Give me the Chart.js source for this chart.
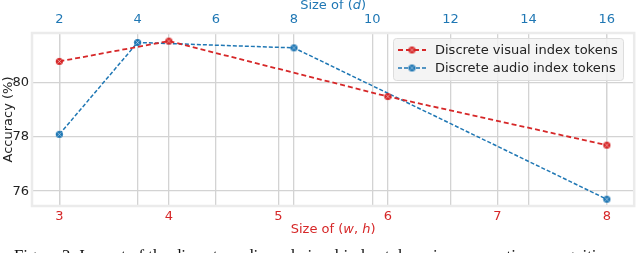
<!DOCTYPE html>
<html lang="en-US">
<head>
  <meta charset="UTF-8">
  <title>Token size vs accuracy</title>
  <script src="https://cdn.jsdelivr.net/npm/chart.js@4.4.1/dist/chart.umd.min.js"></script>
  <style>
    body { margin: 0; background: #fff; width: 640px; height: 253px; overflow: hidden; position: relative; }
    #caption { position: absolute; left: 14px; top: 246px; font-family: "Liberation Serif", serif; font-size: 16.8px; line-height: 19px; color: #111; white-space: nowrap; }
  </style>
</head>
<body>

  <canvas id="myChart" width="640" height="253"></canvas>
  <div id="caption">Figure 3: Impact of the discrete audio and visual index token size on emotion recognition</div>

  <script>

  // data
  var whSizes = [3, 4, 6, 8];               // bottom axis, (w, h)
  var visualAcc = [80.8, 81.55, 79.5, 77.7];
  var dSizes = [2, 4, 8, 16];               // top axis, d
  var audioAcc = [78.1, 81.5, 81.3, 75.7];

  var whTicks = [3, 4, 5, 6, 7, 8];
  var dTicks = [2, 4, 6, 8, 10, 12, 14, 16];
  var accTicks = [76, 78, 80];

  var RED = "#d62728";
  var BLUE = "#1f77b4";
  var GRID = "#d3d3d3";
  var FONT = "DejaVu Sans";

  // small circle marker with a cross inside, like the one in the figure
  function makeMarker(color){
    var c = document.createElement("canvas");
    c.width = 9; c.height = 9;
    var g = c.getContext("2d");
    g.fillStyle = color;
    g.beginPath(); g.arc(4.5, 4.5, 3.6, 0, Math.PI * 2); g.fill();
    g.strokeStyle = "rgba(255,255,255,0.55)";
    g.lineWidth = 0.9;
    g.beginPath();
    g.moveTo(2.5, 2.5); g.lineTo(6.5, 6.5);
    g.moveTo(6.5, 2.5); g.lineTo(2.5, 6.5);
    g.stroke();
    return c;
  }
  var redMarker = makeMarker(RED);
  var blueMarker = makeMarker(BLUE);

  function toPoints(xs, ys){
    return xs.map(function(v, i){ return {x: v, y: ys[i]}; });
  }

  // frame round the plot area
  var framePlugin = {
    id: "frame",
    beforeDatasetsDraw: function(chart){
      var a = chart.chartArea, ctx = chart.ctx;
      ctx.save();
      ctx.strokeStyle = "#ebebeb";
      ctx.lineWidth = 2.5;
      ctx.strokeRect(a.left, a.top, a.right - a.left, a.bottom - a.top);
      ctx.restore();
    }
  };

  // axis titles (with italic symbols) and the legend box
  var extrasPlugin = {
    id: "extras",
    afterDraw: function(chart){
      var a = chart.chartArea, ctx = chart.ctx;
      var cx = (a.left + a.right) / 2;

      function mixed(parts, x, y, color){
        ctx.fillStyle = color;
        ctx.textBaseline = "alphabetic";
        ctx.textAlign = "left";
        var w = 0;
        parts.forEach(function(p){ ctx.font = (p[1] ? "italic " : "") + "13px " + FONT; w += ctx.measureText(p[0]).width; });
        var start = x - w / 2;
        parts.forEach(function(p){
          ctx.font = (p[1] ? "italic " : "") + "13px " + FONT;
          ctx.fillText(p[0], start, y);
          start += ctx.measureText(p[0]).width;
        });
      }

      ctx.save();
      mixed([["Size of (", false], ["d", true], [")", false]], cx, 9, BLUE);
      mixed([["Size of (", false], ["w", true], [", ", false], ["h", true], [")", false]], cx, 233, RED);

      ctx.translate(12, (a.top + a.bottom) / 2);
      ctx.rotate(-Math.PI / 2);
      ctx.font = "13px " + FONT;
      ctx.fillStyle = "#222";
      ctx.textAlign = "center";
      ctx.textBaseline = "alphabetic";
      ctx.fillText("Accuracy (%)", 0, 0);
      ctx.restore();

      // legend
      ctx.save();
      var lx = 393, ly = 38, lw = 230, lh = 42;
      ctx.fillStyle = "rgba(242,242,242,0.85)";
      ctx.strokeStyle = "#dddddd";
      ctx.lineWidth = 1;
      ctx.beginPath();
      ctx.roundRect(lx + 0.5, ly + 0.5, lw, lh, 3);
      ctx.fill(); ctx.stroke();

      var items = [
        {label: "Discrete visual index tokens", color: RED, dash: [5, 3], w: 1.8, mk: redMarker, y: 50},
        {label: "Discrete audio index tokens", color: BLUE, dash: [4, 2], w: 1.5, mk: blueMarker, y: 68}
      ];
      items.forEach(function(it){
        ctx.strokeStyle = it.color;
        ctx.lineWidth = it.w;
        ctx.setLineDash(it.dash);
        ctx.beginPath(); ctx.moveTo(398, it.y); ctx.lineTo(426, it.y); ctx.stroke();
        ctx.setLineDash([]);
        ctx.drawImage(it.mk, 412 - 4.5, it.y - 4.5);
        ctx.fillStyle = "#222";
        ctx.font = "13px " + FONT;
        ctx.textAlign = "left";
        ctx.textBaseline = "middle";
        ctx.fillText(it.label, 435, it.y + 1);
      });
      ctx.restore();
    }
  };

  var ctx = document.getElementById("myChart");
  var myChart = new Chart(ctx, {
    type: "line",
    data: {
      datasets: [{
        label: "Discrete visual index tokens",
        data: toPoints(whSizes, visualAcc),
        xAxisID: "x",
        yAxisID: "y",
        borderColor: RED,
        borderWidth: 1.8,
        borderDash: [5, 3],
        pointStyle: redMarker,
        fill: false,
        tension: 0
      }, {
        label: "Discrete audio index tokens",
        data: toPoints(dSizes, audioAcc),
        xAxisID: "x2",
        yAxisID: "y",
        borderColor: BLUE,
        borderWidth: 1.5,
        borderDash: [4, 2],
        pointStyle: blueMarker,
        fill: false,
        tension: 0
      }]
    },
    options: {
      responsive: false,
      animation: false,
      devicePixelRatio: 1,
      layout: { padding: { left: 0, right: 4, top: 0, bottom: 0 } },
      plugins: { legend: { display: false }, tooltip: { enabled: false } },
      scales: {
        x: {
          type: "linear", position: "bottom", min: 2.75, max: 8.25,
          afterBuildTicks: function(s){ s.ticks = whTicks.map(function(v){ return {value: v}; }); },
          afterFit: function(s){ s.height = 47; },
          ticks: { color: RED, font: { family: FONT, size: 13 }, padding: 3, maxRotation: 0 },
          grid: { color: GRID, lineWidth: 1.3, drawTicks: false },
          border: { display: false }
        },
        x2: {
          type: "linear", position: "top", min: 1.3, max: 16.7,
          afterBuildTicks: function(s){ s.ticks = dTicks.map(function(v){ return {value: v}; }); },
          afterFit: function(s){ s.height = 33; },
          ticks: { color: BLUE, font: { family: FONT, size: 13 }, padding: 6, maxRotation: 0 },
          grid: { color: GRID, lineWidth: 1.3, drawTicks: false },
          border: { display: false }
        },
        y: {
          type: "linear", position: "left", min: 75.45, max: 81.85,
          afterBuildTicks: function(s){ s.ticks = accTicks.map(function(v){ return {value: v}; }); },
          afterFit: function(s){ s.width = 32; },
          ticks: { color: "#222", font: { family: FONT, size: 13 }, padding: 3 },
          grid: { color: GRID, lineWidth: 1.3, drawTicks: false },
          border: { display: false }
        }
      }
    },
    plugins: [framePlugin, extrasPlugin]
  });

  </script>
</body>
</html>
